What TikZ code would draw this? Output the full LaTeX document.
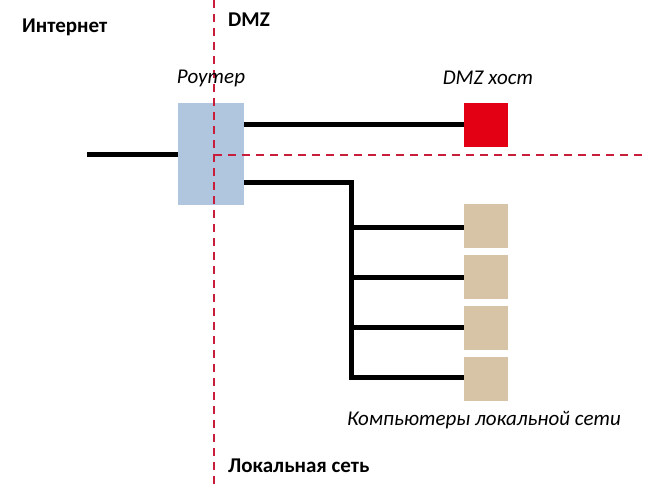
\documentclass[tikz,border=0pt]{standalone}
\usepackage{fontspec}
\setmainfont{Carlito}
\begin{document}
\begin{tikzpicture}[x=1pt,y=-1pt,
  wire/.style={line width=5pt,black},
  zone/.style={draw={rgb,255:red,200;green,30;blue,60},line width=1.2pt,dash pattern=on 8pt off 6pt},
  dev/.style={draw=none,minimum width=44pt,minimum height=44pt,inner sep=0pt,anchor=north west},
  comp/.style={dev,fill={rgb,255:red,215;green,196;blue,166}},
  lbl/.style={inner sep=0pt},
  bold/.style={lbl,font=\fontsize{21}{24}\selectfont\bfseries},
  ital/.style={lbl,font=\fontsize{21}{24}\selectfont\itshape}
]
\useasboundingbox (0,0) rectangle (650,488);
\coordinate (vt) at (214,0);
\coordinate (vb) at (214,488);
\coordinate (hc) at (214,155);
\coordinate (hr) at (642,155);
% router
\node[draw=none,fill={rgb,255:red,176;green,198;blue,222},minimum width=66pt,minimum height=102pt,inner sep=0pt,anchor=north west] (router) at (178,103) {};
% zone lines
\draw[zone] (vt) -- (vb);
\draw[zone] (hc) -- (hr);
% DMZ host
\node[dev,fill={rgb,255:red,228;green,0;blue,20}] (host) at (464,103) {};
% computers
\node[comp] (c1) at (464,204) {};
\node[comp] (c2) at (464,255) {};
\node[comp] (c3) at (464,306) {};
\node[comp] (c4) at (464,357) {};
% wires
\coordinate (inet) at (87,154);
\draw[wire] (inet) -- (inet -| router.west);
\draw[wire] (router.east |- 0,124) -- (host.west |- 0,124);
\coordinate (bus) at (351,182);
\draw[wire] (router.east |- 0,182) -- (bus) -- (351,379.5);
\draw[wire] (349.5,227) -- (c1.west |- 0,227);
\draw[wire] (349.5,277) -- (c2.west |- 0,277);
\draw[wire] (349.5,327) -- (c3.west |- 0,327);
\draw[wire] (349.5,377) -- (c4.west |- 0,377);
% labels
\node[bold,anchor=west] (tinet) at (22,27) {Интернет};
\node[bold,anchor=west] (tdmz) at (228,20) {DMZ};
\node[ital,anchor=center] (trouter) at (211,78) {Роутер};
\node[ital,anchor=center] (thost) at (488,78) {DMZ хост};
\node[ital,anchor=west] (tcomp) at (347,420) {Компьютеры локальной сети};
\node[bold,anchor=west] (tlan) at (228,466) {Локальная сеть};
\end{tikzpicture}
\end{document}
